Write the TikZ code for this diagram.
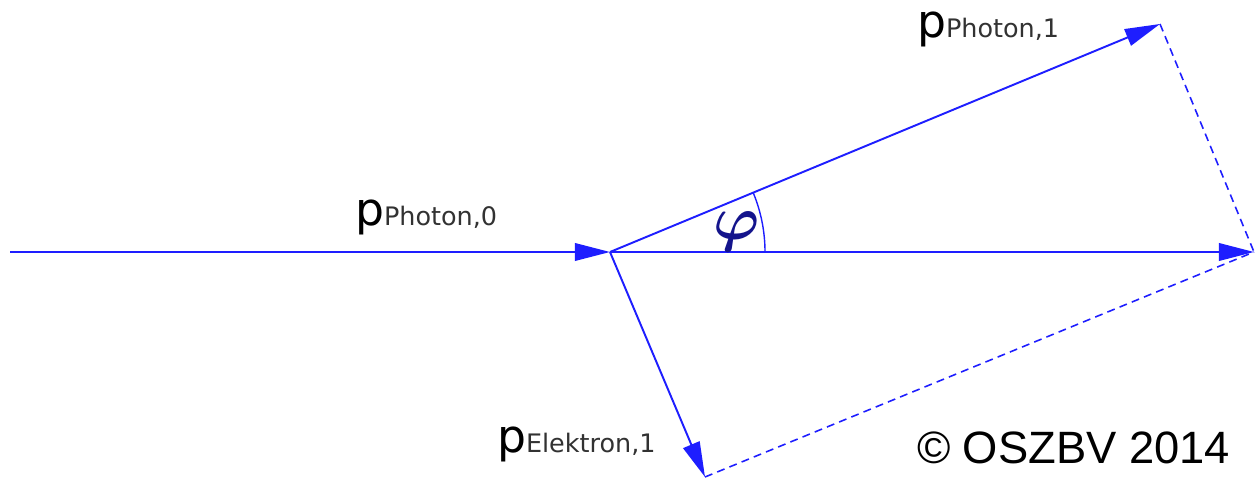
\documentclass[tikz,border=0pt]{standalone}
\usepackage{graphicx}
\usepackage{amsmath,amsbsy}
\usepackage{fontspec}
\setmainfont{Liberation Sans}
\newfontfamily\labfont{DejaVu Sans}
\usetikzlibrary{arrows.meta}
\definecolor{vecblue}{RGB}{30,30,255}
\definecolor{phiblue}{RGB}{20,20,140}
\definecolor{subgray}{RGB}{50,50,50}
\tikzset{
  vec/.style={draw=vecblue, line width=1.1pt, -{Triangle[length=20pt,width=10pt]}},
  helper/.style={draw=vecblue, line width=0.9pt, dash pattern=on 4.5pt off 3pt},
  anglearc/.style={draw=vecblue, line width=0.8pt},
  lab/.style={anchor=base west, inner sep=0pt, outer sep=0pt},
}
\newcommand{\plab}[1]{{\labfont\fontsize{26}{26}\selectfont p}{\labfont\fontsize{14.5}{14.5}\selectfont\color{subgray}#1}}
\newcommand{\phisym}{\scalebox{1.7}{\huge\mathversion{bold}$\varphi$}}
\begin{document}
\begin{tikzpicture}[x=0.02cm,y=-0.02cm]
\useasboundingbox (0,0) rectangle (1257,479);
\coordinate (S) at (10,252);
\coordinate (C) at (610,252);
\coordinate (P1) at (1160,24);
\coordinate (E) at (1254,252);
\coordinate (El) at (705,477);
\coordinate (A0) at (765,252);

\draw[vec] (S) -- (C);
\draw[vec] (C) -- (P1);
\draw[vec] (C) -- (E);
\draw[vec] (C) -- (El);
\draw[helper] (P1) -- (E);
\draw[helper] (El) -- (E);
\draw[anglearc] (A0) arc[start angle=0, end angle=-22.5, radius=155];

\node[lab] (l0) at (355,226) {\plab{Photon,0}};
\node[lab] (l1) at (917,38) {\plab{Photon,1}};
\node[lab] (l2) at (497,452) {\plab{Elektron,1}};
\node[text=phiblue, inner sep=0pt] (phi) at (737,232) {\phisym};
\node[lab] (cp) at (917,463) {\fontsize{25.8}{25.8}\selectfont © OSZBV 2014};
\end{tikzpicture}
\end{document}
